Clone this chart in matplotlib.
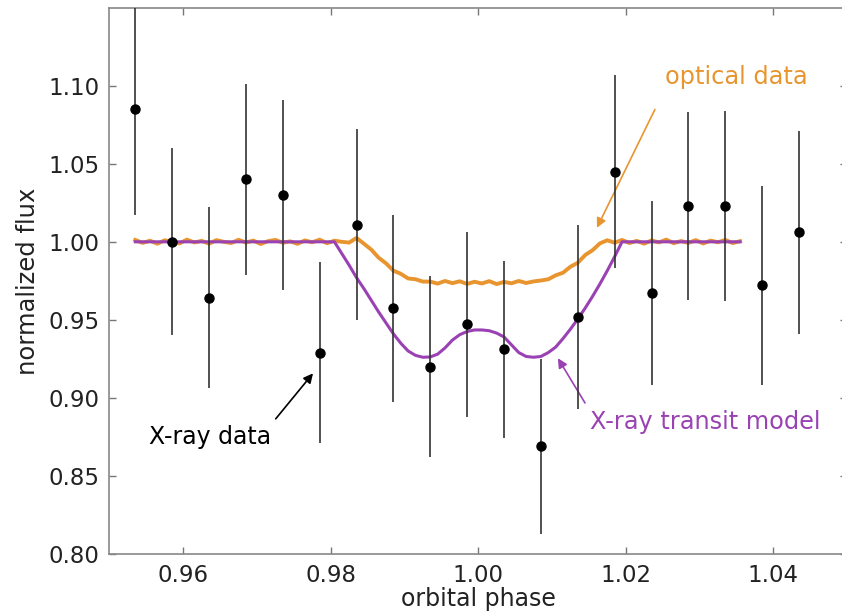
import matplotlib
matplotlib.use('Agg')
import matplotlib.pyplot as plt
import numpy as np

# X-ray points with error bars
xray_phase = [0.9535, 0.9585, 0.9635, 0.9685, 0.9735, 0.9785, 0.9835, 0.9885, 0.9935, 0.9985,
              1.0035, 1.0085, 1.0135, 1.0185, 1.0235, 1.0285, 1.0335, 1.0385, 1.0435]
xray_flux = [1.085, 1.000, 0.964, 1.040, 1.030, 0.929, 1.011, 0.9575, 0.920, 0.947,
             0.931, 0.869, 0.952, 1.045, 0.967, 1.023, 1.023, 0.972, 1.006]
xray_err = [0.068, 0.060, 0.058, 0.061, 0.061, 0.058, 0.061, 0.060, 0.058, 0.059,
            0.057, 0.056, 0.059, 0.062, 0.059, 0.060, 0.061, 0.064, 0.065]

# optical light curve, sampled every 0.001 in phase from 0.9535 to 1.0355
opt_flux = [1.0012, 0.9993, 1.0007, 0.9988, 1.0010, 0.9998, 0.9990, 1.0014, 0.9996, 1.0006,
            0.9988, 1.0011, 1.0000, 0.9992, 1.0013, 0.9995, 1.0008, 0.9986, 1.0004, 1.0012,
            0.9994, 1.0003, 0.9987, 1.0009, 0.9997, 1.0014, 0.9991, 1.0007, 1.0000, 0.9995,
            1.0025, 0.9988, 0.9950, 0.9898, 0.9862, 0.9815, 0.9795, 0.9765, 0.9760, 0.9745,
            0.9745, 0.9732, 0.9749, 0.9735, 0.9747, 0.9730, 0.9744, 0.9733, 0.9748, 0.9729,
            0.9743, 0.9734, 0.9749, 0.9736, 0.9746,
            0.9752, 0.9760, 0.9785, 0.9802, 0.9840, 0.9866, 0.9915, 0.9946, 0.9990,
            1.0010, 0.9994, 1.0012, 0.9992, 1.0006, 0.9988, 1.0009, 0.9996, 1.0014, 0.9991,
            1.0005, 0.9993, 1.0011, 0.9989, 1.0008, 0.9997, 1.0012, 0.9992, 1.0004]
opt_phase = np.round(np.linspace(0.9535, 1.0355, len(opt_flux)), 4)

# X-ray transit model: flat outside 0.9805-1.0195, sampled every 0.001 inside
model_in = [1.000, 0.9925, 0.985, 0.977, 0.970, 0.9625, 0.955, 0.948, 0.941, 0.935,
            0.930, 0.9272, 0.926, 0.9262, 0.928, 0.932, 0.937, 0.9405, 0.9425, 0.9435,
            0.9435, 0.943, 0.9415, 0.939, 0.934, 0.929, 0.9265, 0.926, 0.9265, 0.929,
            0.9325, 0.938, 0.944, 0.9505, 0.9575, 0.965, 0.973, 0.9815, 0.9905, 1.000]
model_phase = np.concatenate(([0.9535], np.linspace(0.9805, 1.0195, len(model_in)), [1.0355]))
model_flux = [1.000] + model_in + [1.000]

orange = '#E8952F'
purple = '#9A42B3'

fig = plt.figure(figsize=(8.42, 6.11), dpi=100)
ax = fig.add_axes([0.130, 0.0936, 0.8759, 0.8936])

ax.plot(opt_phase, opt_flux, color=orange, lw=2.8, zorder=2)
ax.plot(model_phase, model_flux, color=purple, lw=2.2, zorder=3)
ax.errorbar(xray_phase, xray_flux, yerr=xray_err, fmt='o', color='black', ms=6.5,
            ecolor='#333333', elinewidth=1.2, capsize=0, zorder=4)

ax.annotate('optical data', xy=(1.0161, 1.009), xytext=(1.0253, 1.1055),
            color=orange, fontsize=17.3, va='center', ha='left',
            arrowprops=dict(arrowstyle='-|>', color=orange, lw=1.2, relpos=(0.0, 0.0),
                            shrinkA=14, shrinkB=0, mutation_scale=14))
ax.annotate('X-ray data', xy=(0.9776, 0.9157), xytext=(0.9636, 0.8750),
            color='black', fontsize=17, va='center', ha='center',
            arrowprops=dict(arrowstyle='-|>', color='black', lw=1.2, relpos=(1.0, 1.0),
                            shrinkA=3, shrinkB=0, mutation_scale=14))
ax.annotate('X-ray transit model', xy=(1.0108, 0.9254), xytext=(1.0151, 0.8842),
            color=purple, fontsize=17.3, va='center', ha='left',
            arrowprops=dict(arrowstyle='-|>', color=purple, lw=1.2, relpos=(0.0, 1.0),
                            shrinkA=4, shrinkB=0, mutation_scale=14))

ax.set_xlim(0.95, 1.05)
ax.set_ylim(0.80, 1.15)
ax.set_xticks([0.96, 0.98, 1.00, 1.02, 1.04])
ax.set_yticks([0.80, 0.85, 0.90, 0.95, 1.00, 1.05, 1.10])
ax.xaxis.set_major_formatter(matplotlib.ticker.FormatStrFormatter('%.2f'))
ax.yaxis.set_major_formatter(matplotlib.ticker.FormatStrFormatter('%.2f'))
ax.tick_params(direction='in', top=True, right=True, length=5, width=1,
               color='#777777', labelsize=16.5, labelcolor='#222222', pad=7)
for s in ax.spines.values():
    s.set_color('#888888')
    s.set_linewidth(1.2)

ax.set_xlabel('orbital phase', fontsize=17, color='#222222', labelpad=0)
ax.set_ylabel('normalized flux', fontsize=17.5, color='#222222', labelpad=6)

plt.savefig('out.png', dpi=100)
plt.close()
